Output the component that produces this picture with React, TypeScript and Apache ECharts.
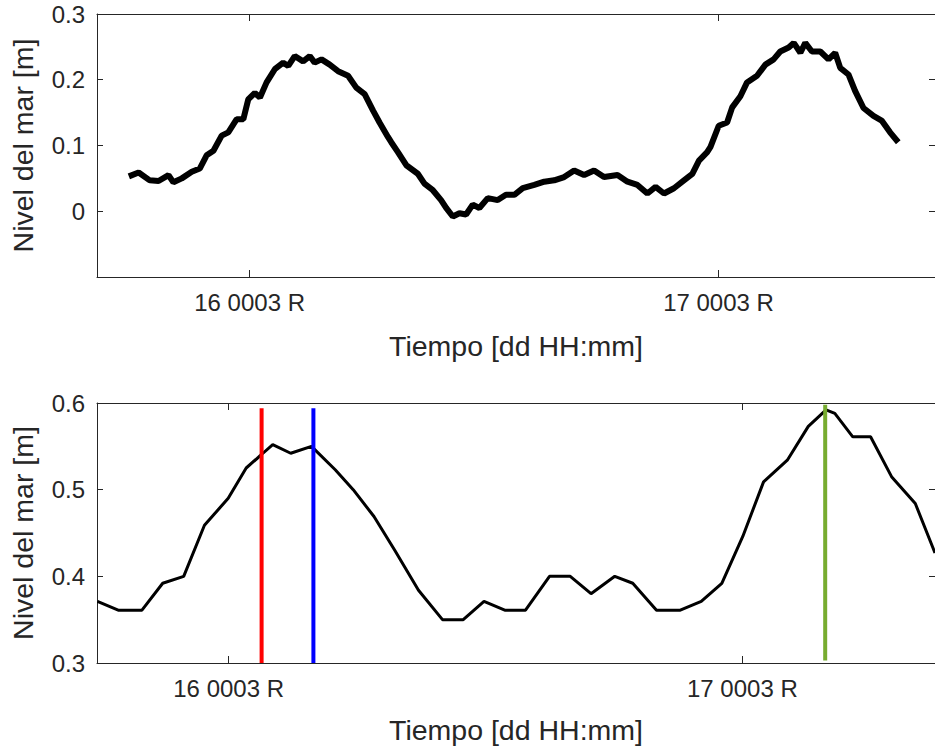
import React, { useEffect, useRef } from "react";
import * as echarts from "echarts";

// Hours relative to "16 0003 R"
const topHours = [
  -6.18, -5.68, -5.11, -4.66, -4.15, -3.9, -3.47, -2.96, -2.55, -2.2, -1.85, -1.43, -1.09, -0.66,
  -0.32, -0.07, 0.27, 0.53, 0.87, 1.29, 1.72, 1.98, 2.31, 2.74, 3.08, 3.33, 3.68, 4.1, 4.53, 5.04,
  5.46, 5.89, 6.32, 6.65, 7.08, 7.25, 7.59, 8.02, 8.61, 8.95, 9.38, 9.8, 10.06, 10.4, 10.74, 11.08,
  11.42, 11.76, 12.19, 12.7, 13.12, 13.55, 13.98, 14.57, 15.08, 15.59, 16.1, 16.61, 17.12, 17.63,
  18.14, 18.83, 19.34, 19.85, 20.36, 20.78, 21.21, 21.72, 22.23, 22.66, 23.0, 23.42, 23.59, 24.01,
  24.44, 24.7, 25.12, 25.46, 25.97, 26.4, 26.82, 27.16, 27.59, 27.85, 28.19, 28.44, 28.78, 29.21,
  29.63, 29.97, 30.23, 30.65, 30.99, 31.42, 31.93, 32.35, 32.78, 33.2,
];
const topLevel = [
  0.053, 0.059, 0.047, 0.046, 0.055, 0.044, 0.05, 0.06, 0.065, 0.085, 0.092, 0.115, 0.12, 0.14,
  0.14, 0.17, 0.18, 0.173, 0.196, 0.216, 0.226, 0.221, 0.236, 0.228, 0.236, 0.226, 0.231, 0.223,
  0.213, 0.206, 0.188, 0.178, 0.153, 0.135, 0.113, 0.105, 0.09, 0.07, 0.057, 0.042, 0.032, 0.017,
  0.005, -0.008, -0.003, -0.005, 0.01, 0.005, 0.02, 0.017, 0.025, 0.025, 0.035, 0.04, 0.045, 0.047,
  0.052, 0.062, 0.055, 0.062, 0.052, 0.055, 0.045, 0.04, 0.027, 0.037, 0.027, 0.035, 0.047, 0.057,
  0.077, 0.09, 0.098, 0.13, 0.135, 0.158, 0.175, 0.196, 0.206, 0.223, 0.231, 0.243, 0.249, 0.256,
  0.241, 0.256, 0.243, 0.243, 0.231, 0.241, 0.218, 0.208, 0.183, 0.157, 0.145, 0.138, 0.12, 0.105,
];

const bottomHours = [
  -6.13, -5.16, -4.05, -3.08, -2.1, -1.13, -0.02, 0.82, 1.51, 2.06, 2.9, 3.87, 4.98, 5.82, 6.79,
  7.76, 8.87, 9.99, 10.96, 11.93, 12.9, 13.87, 14.99, 15.96, 16.93, 18.04, 18.88, 19.99, 21.1,
  22.08, 23.04, 24.02, 24.99, 26.1, 27.08, 27.91, 28.32, 29.16, 29.99, 30.97, 32.08, 33.0,
];
const bottomLevel = [
  0.371, 0.361, 0.361, 0.392, 0.4, 0.459, 0.49, 0.525, 0.54, 0.552, 0.542, 0.55, 0.523, 0.5, 0.469,
  0.43, 0.384, 0.35, 0.35, 0.371, 0.361, 0.361, 0.4, 0.4, 0.38, 0.4, 0.392, 0.361, 0.361, 0.371,
  0.392, 0.446, 0.509, 0.534, 0.573, 0.592, 0.588, 0.561, 0.561, 0.515, 0.484, 0.427,
];

const markerHours = [1.54, 3.96, 27.87];
const markerBottom = [0.3, 0.3, 0.303];
const markerTop = [0.594, 0.594, 0.598];
const markerColors = ["#ff0000", "#0000ff", "#77ac30"];

const xTickHours = [0, 24];
const xTickLabels = ["16 0003 R", "17 0003 R"];
const topYTicks = [0, 0.1, 0.2, 0.3];
const bottomYTicks = [0.3, 0.4, 0.5, 0.6];

const TEXT = "#262626";
const FONT = "'Liberation Sans', Arial, Helvetica, sans-serif";

export default function App() {
  const ref = useRef<HTMLDivElement>(null);
  useEffect(() => {
    if (!ref.current) return;
    const chart = echarts.init(ref.current, null, { renderer: "svg" });

    const xFmt = (v: number) => {
      const i = xTickHours.indexOf(Math.round(v));
      return i >= 0 ? xTickLabels[i] : "";
    };
    const axisLine = { show: true, onZero: false, lineStyle: { color: TEXT, width: 1 } };
    const xTick = { show: true, inside: true, length: 7, lineStyle: { color: TEXT }, customValues: xTickHours };
    const mkY = (ticks: number[], fmt: (v: number) => string) => ({
      axisLine,
      axisTick: { show: true, inside: true, length: 6, lineStyle: { color: TEXT }, customValues: ticks },
      splitLine: { show: false },
      axisLabel: {
        customValues: ticks,
        formatter: fmt,
        color: TEXT,
        fontFamily: FONT,
        fontSize: 24,
        margin: 12,
      },
    });

    const grids = [
      { left: 95, right: 0, top: 14, height: 263 },
      { left: 95, right: 0, top: 403, height: 260 },
    ];

    const xAxes: any[] = [];
    const yAxes: any[] = [];
    const ranges = [
      { xmin: -7.81, xmax: 35.08, ymin: -0.1, ymax: 0.3, yt: topYTicks, fmt: (v: number) => (Math.abs(v) < 1e-9 ? "0" : v.toFixed(1)), gap: 54 },
      { xmin: -6.15, xmax: 33.0, ymin: 0.3, ymax: 0.6, yt: bottomYTicks, fmt: (v: number) => v.toFixed(1), gap: 52 },
    ];
    ranges.forEach((r, g) => {
      xAxes.push({
        type: "value", gridIndex: g, position: "bottom", min: r.xmin, max: r.xmax,
        axisLine, axisTick: xTick, splitLine: { show: false },
        axisLabel: { customValues: xTickHours, formatter: xFmt, color: TEXT, fontFamily: FONT, fontSize: 24, margin: 13 },
        name: "Tiempo [dd HH:mm]", nameLocation: "middle", nameGap: r.gap,
        nameTextStyle: { color: TEXT, fontFamily: FONT, fontSize: 28.5 },
      });
      xAxes.push({
        type: "value", gridIndex: g, position: "top", min: r.xmin, max: r.xmax,
        axisLine, axisTick: xTick, splitLine: { show: false }, axisLabel: { show: false },
      });
      yAxes.push({
        type: "value", gridIndex: g, position: "left", min: r.ymin, max: r.ymax,
        ...mkY(r.yt, r.fmt),
        name: "Nivel del mar [m]", nameLocation: "middle", nameGap: 60, nameRotate: 90,
        nameTextStyle: { color: TEXT, fontFamily: FONT, fontSize: 28.5 },
      });
      const yr: any = { type: "value", gridIndex: g, position: "right", min: r.ymin, max: r.ymax, ...mkY(r.yt, r.fmt) };
      yr.axisLabel = { show: false, customValues: r.yt };
      yAxes.push(yr);
    });

    const series: any[] = [
      {
        type: "line", xAxisIndex: 0, yAxisIndex: 0, showSymbol: false, symbol: "none",
        data: topHours.map((h, i) => [h, topLevel[i]]),
        lineStyle: { color: "#000000", width: 6 },
      },
      {
        type: "line", xAxisIndex: 2, yAxisIndex: 2, showSymbol: false, symbol: "none",
        data: bottomHours.map((h, i) => [h, bottomLevel[i]]),
        lineStyle: { color: "#000000", width: 3 },
      },
    ];
    markerHours.forEach((h, i) => {
      series.push({
        type: "line", xAxisIndex: 2, yAxisIndex: 2, showSymbol: false, symbol: "none",
        data: [[h, markerBottom[i]], [h, markerTop[i]]],
        lineStyle: { color: markerColors[i], width: 4, cap: "butt" },
      });
    });

    chart.setOption({
      animation: false,
      backgroundColor: "#ffffff",
      textStyle: { fontFamily: FONT },
      grid: grids,
      xAxis: xAxes,
      yAxis: yAxes,
      series,
    });
    return () => chart.dispose();
  }, []);

  return (
    <div style={{ position: "fixed", left: 0, top: 0, width: 935, height: 751, overflow: "hidden", background: "#fff" }}>
      <div ref={ref} style={{ width: 935, height: 751 }} />
    </div>
  );
}
